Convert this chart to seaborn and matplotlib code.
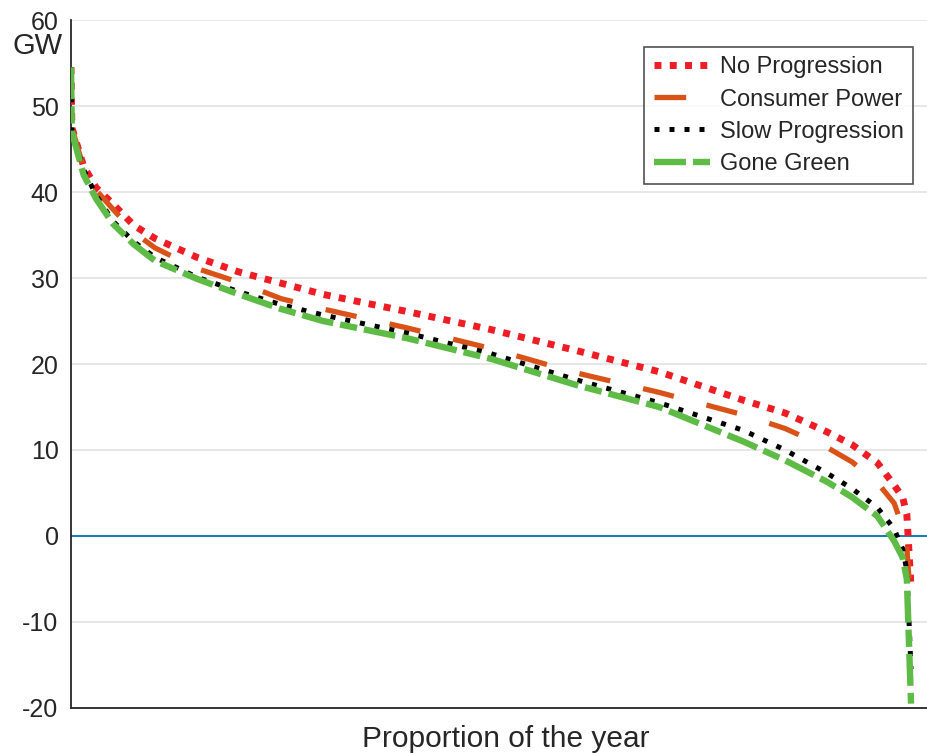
import pandas as pd
import matplotlib
matplotlib.use('Agg')
import matplotlib.pyplot as plt
import seaborn as sns

# -------------------------------------------------------------
# 1. Data (proportion of the year vs GW)
prop = [0.0, 0.001, 0.015, 0.03, 0.05, 0.075, 0.1, 0.15, 0.2, 0.25, 0.3,
        0.4, 0.5, 0.6, 0.7, 0.8, 0.85, 0.9, 0.93, 0.96, 0.98, 0.99, 0.995, 1.0]

no_progression = [54.5, 47.5, 43.0, 40.5, 38.6, 36.1, 34.6, 32.4, 30.7, 29.4, 28.1,
                  26.1, 24.0, 21.6, 19.1, 15.8, 14.3, 12.1, 10.6, 8.5, 5.9, 4.5, 2.5, -6.0]
consumer_power = [54.5, 47.5, 42.8, 40.2, 38.0, 35.3, 33.5, 31.1, 29.5, 27.6, 26.4,
                  24.2, 21.8, 19.0, 16.7, 14.1, 12.5, 10.3, 8.6, 6.2, 3.8, 1.0, -1.5, -8.0]
slow_progression = [54.5, 47.0, 42.6, 39.6, 36.6, 34.2, 32.4, 30.1, 28.4, 26.9, 25.7,
                    23.6, 21.2, 18.2, 15.5, 12.3, 10.0, 7.3, 5.5, 3.3, 0.8, -1.5, -4.0, -15.5]
gone_green = [54.5, 47.0, 42.0, 39.2, 36.3, 33.9, 32.0, 29.9, 28.1, 26.4, 25.0,
              23.0, 20.6, 17.6, 15.0, 11.0, 8.8, 6.3, 4.5, 2.3, -0.6, -2.5, -5.0, -19.5]

series_names = ['No Progression', 'Consumer Power', 'Slow Progression', 'Gone Green']
series_values = [no_progression, consumer_power, slow_progression, gone_green]

# styles: colour, line width (pt), dash pattern (in line widths)
styles = {
    'No Progression':   ('#ee1c25', 5.0, (0, (1, 1.2))),
    'Consumer Power':   ('#d95319', 3.8, (0, (6, 6.4))),
    'Slow Progression': ('#000000', 3.6, (0, (1, 2.0))),
    'Gone Green':       ('#5dbb46', 4.6, (0, (5.0, 1.1, 2.7, 1.1))),
}

df = pd.concat([pd.DataFrame({'prop': prop, 'GW': v, 'scenario': n})
                for n, v in zip(series_names, series_values)])

# -------------------------------------------------------------
# 2. Plot
sns.set_style('white')
plt.rcParams['font.family'] = ['Liberation Sans', 'DejaVu Sans']
plt.rcParams['axes.unicode_minus'] = False

fig = plt.figure(figsize=(9.27, 7.53), dpi=100)
ax = fig.add_axes([0.0766, 0.0598, 0.9234, 0.9136])

ax.grid(axis='y', color='#e3e3e3', linewidth=1.2)
ax.axhline(0, color='#0072bd', linewidth=1.3, zorder=1)

for name in series_names:
    col, lw, ls = styles[name]
    sns.lineplot(data=df[df['scenario'] == name], x='prop', y='GW', sort=False,
                 color=col, linewidth=lw, linestyle=ls, label=name, ax=ax,
                 zorder=3)

ax.set_xlim(0, 1.019)
ax.set_ylim(-20, 60)
ax.set_yticks(range(-20, 61, 10))
ax.set_xticks([])
ax.tick_params(axis='y', direction='in', length=5, width=1.2, pad=9,
               labelsize=18, colors='#262626')
for s in ['top', 'right']:
    ax.spines[s].set_visible(False)
for s in ['left', 'bottom']:
    ax.spines[s].set_color('#262626')
    ax.spines[s].set_linewidth(1.3)

ax.set_xlabel('Proportion of the year', fontsize=21.5, color='#262626')
ax.xaxis.set_label_coords(0.508, -0.025)
ax.set_ylabel('')
fig.text(0.040, 0.939, 'GW', fontsize=21, color='#262626', ha='center', va='center')

leg = ax.legend(loc='upper right', bbox_to_anchor=(0.9836, 0.9608), borderaxespad=0,
                fontsize=17, frameon=True, fancybox=False, edgecolor='#262626',
                handlelength=2.4, handletextpad=0.4, labelspacing=0.43,
                borderpad=0.4)
leg.get_frame().set_linewidth(1.2)

fig.savefig('out.png', dpi=100)
